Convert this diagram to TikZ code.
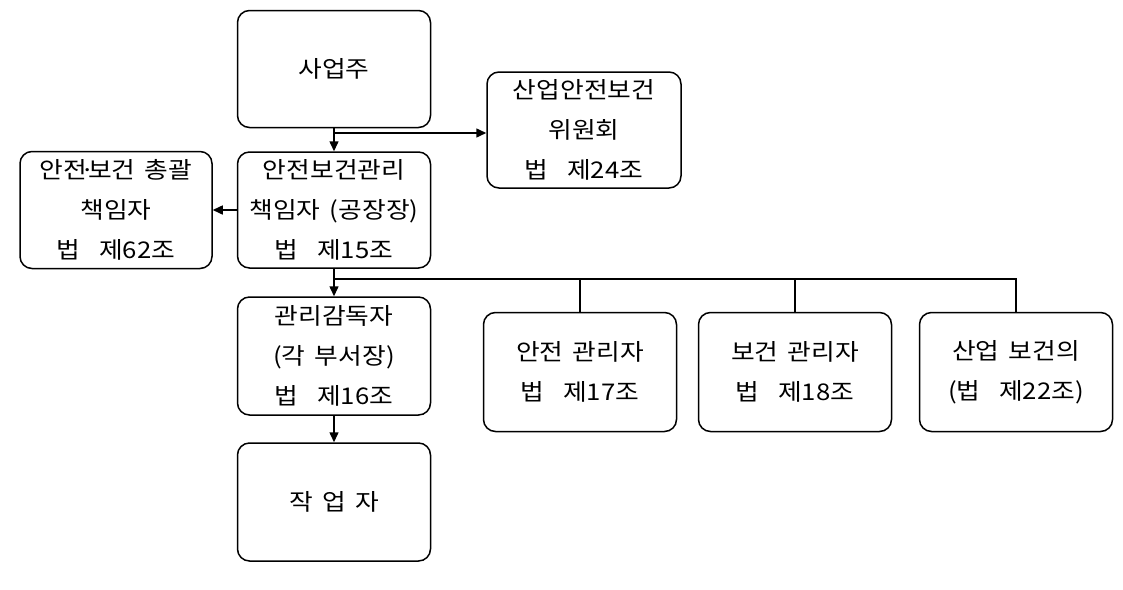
\documentclass[tikz,border=0pt]{standalone}
\usepackage{fontspec}
\newfontfamily\kr[WordSpace=1.6,FakeStretch=1.12]{Noto Sans CJK KR}
\usetikzlibrary{arrows.meta,calc}
\newcommand{\mdot}{\kern-0.3em·\kern-0.3em}
\begin{document}
\begin{tikzpicture}[x=1pt,y=-1pt,
  box/.style={draw,line width=1.5pt,rounded corners=12pt,minimum width=193pt,minimum height=117pt,inner sep=0pt,align=center,font=\kr\fontsize{23}{40}\selectfont},
  conn/.style={line width=1.5pt},
  arr/.style={conn,-{Triangle[length=10pt,width=9pt]}}]
\useasboundingbox (0,0) rectangle (1123,589);
\node[box] (sajup) at (334,69) {사업주};
\node[box,minimum width=194pt,minimum height=116pt] (wiwon) at (584,130) {산업안전보건\\위원회\\법~~제24조};
\node[box,minimum height=116pt] (anjeon) at (334,210) {안전보건관리\\책임자 (공장장)\\법~~제15조};
\node[box,minimum width=192pt] (chong) at (116,210) {안전\mdot 보건 총괄\\책임자\\법~~제62조};
\node[box,minimum height=118pt] (gamdok) at (334,356) {관리감독자\\(각 부서장)\\법~~제16조};
\node[box,minimum height=118pt] (worker) at (334,502) {작 업 자};
\node[box,minimum height=119pt] (anmgr) at (580,372) {안전 관리자\\법~~제17조};
\node[box,minimum height=119pt] (bomgr) at (795,372) {보건 관리자\\법~~제18조};
\node[box,minimum height=119pt] (sanup) at (1016,372) {산업 보건의\\(법~~제22조)};
\coordinate (j1) at (334,133);
\coordinate (j2) at (334,279);
\draw[arr] (sajup.south) -- (anjeon.north);
\draw[arr] (j1) -- (j1 -| wiwon.west);
\draw[arr] (anjeon.west) -- (chong.east);
\draw[arr] (anjeon.south) -- (gamdok.north);
\draw[arr] (gamdok.south) -- (worker.north);
\draw[conn] (j2) -- (j2 -| sanup.north) -- (sanup.north);
\draw[conn] (j2 -| anmgr.north) -- (anmgr.north);
\draw[conn] (j2 -| bomgr.north) -- (bomgr.north);
\end{tikzpicture}
\end{document}
